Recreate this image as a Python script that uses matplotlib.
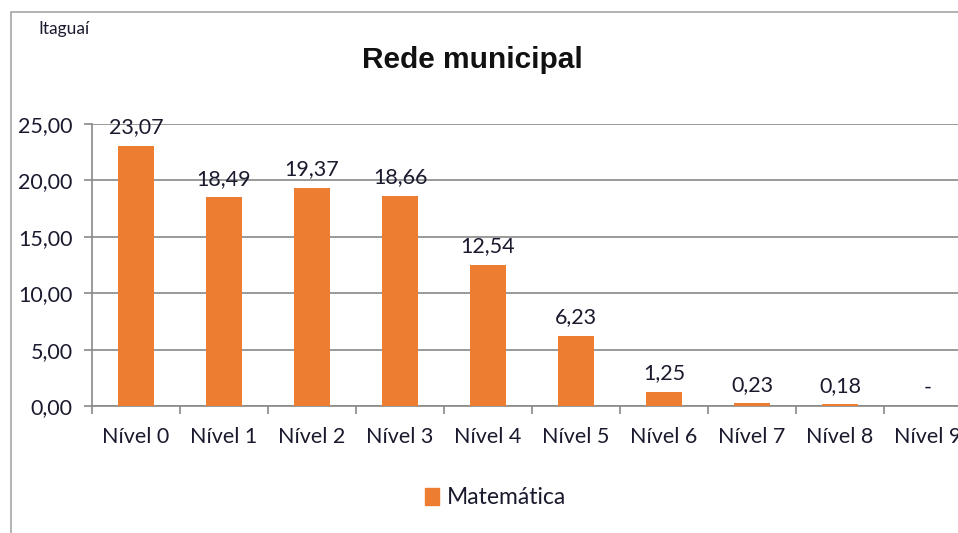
import matplotlib.pyplot as plt
import numpy as np
from matplotlib.patches import Rectangle

niveis = ['Nível 0', 'Nível 1', 'Nível 2', 'Nível 3', 'Nível 4',
          'Nível 5', 'Nível 6', 'Nível 7', 'Nível 8', 'Nível 9']
matematica = [23.07, 18.49, 19.37, 18.66, 12.54, 6.23, 1.25, 0.23, 0.18, np.nan]
rotulos = ['23,07', '18,49', '19,37', '18,66', '12,54', '6,23', '1,25', '0,23', '0,18', '-']
yticks = [0, 5, 10, 15, 20, 25]

laranja = '#ED7D31'
cinza = '#898989'
texto = '#1a1a2e'

plt.rcParams['font.family'] = ['Lato', 'DejaVu Sans']

fig = plt.figure(figsize=(9.58, 5.33), dpi=100)
# borda do grafico (lado direito cortado)
fig.patches.append(Rectangle((11 / 958, -0.1), 2, 1.1 - 12 / 533, transform=fig.transFigure,
                             fill=False, edgecolor='#a6a6a6', linewidth=1.2))

ax = fig.add_axes([92 / 958, 127 / 533, 880 / 958, 282 / 533])
x = np.arange(len(niveis))
ax.bar(x, matematica, width=0.4, color=laranja, zorder=3)
ax.set_xlim(-0.5, len(niveis) - 0.5)
ax.set_ylim(0, 25)

for xi, v, r in zip(x, matematica, rotulos):
    yv = 0 if np.isnan(v) else v
    ax.annotate(r, (xi, yv), xytext=(0, 6), textcoords='offset points',
                ha='center', va='bottom', fontsize=15.5, color=texto, zorder=4)

ax.set_yticks(yticks)
ax.yaxis.set_major_formatter(plt.FuncFormatter(lambda v, p: ('%.2f' % v).replace('.', ',')))
ax.set_xticks(x)
ax.set_xticklabels(niveis)
ax.set_xticks(np.arange(len(niveis) + 1) - 0.5, minor=True)
ax.tick_params(axis='x', which='major', length=0, pad=15, labelsize=15.5, labelcolor=texto)
ax.tick_params(axis='x', which='minor', length=6, color=cinza, width=1.2)
ax.tick_params(axis='y', length=6, color=cinza, width=1.2, labelsize=15.5, labelcolor=texto, pad=8)
ax.grid(axis='y', color=cinza, linewidth=1.2, zorder=0)
for s in ['top', 'right']:
    ax.spines[s].set_visible(False)
for s in ['left', 'bottom']:
    ax.spines[s].set_color(cinza)
    ax.spines[s].set_linewidth(1.2)

fig.text(38 / 958, 1 - 29 / 533, 'Itaguaí', fontsize=12.5, color=texto, va='center')
fig.text(472 / 958, 1 - 60 / 533, 'Rede municipal', fontsize=21.5, fontweight='bold',
         color='#111111', ha='center', va='center', family=['Liberation Sans', 'DejaVu Sans'])

leg = fig.legend([Rectangle((0, 0), 1, 1, color=laranja)], ['Matemática'],
                 loc='center', bbox_to_anchor=(496 / 958, 1 - 498 / 533), frameon=False,
                 fontsize=16.5, handlelength=0.6, handleheight=0.7, handletextpad=0.35)
for t in leg.get_texts():
    t.set_color(texto)

fig.savefig('out.png', dpi=100)
